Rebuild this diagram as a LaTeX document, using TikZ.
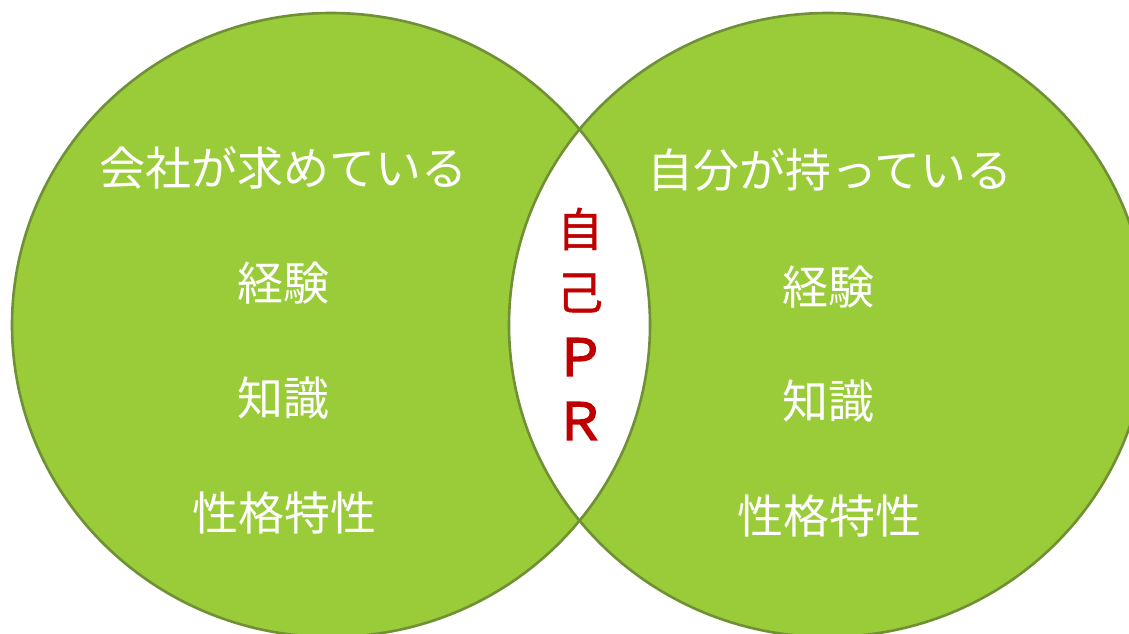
\documentclass[tikz,border=0pt]{standalone}
\usepackage{fontspec}
\newfontfamily\cjk{Noto Sans CJK JP}
\newfontfamily\cjkm[FakeBold=1]{Noto Sans CJK JP}
\newfontfamily\cjkl[FakeBold=3]{Noto Sans CJK JP}
\definecolor{vgreen}{HTML}{9ACB39}
\definecolor{vedge}{HTML}{6F9034}
\definecolor{prred}{HTML}{C00000}
\tikzset{
  lbl/.style={text=white, font=\cjk\fontsize{46}{54}\selectfont, inner sep=0pt, anchor=center},
  prl/.style={text=prred, font=\cjkm\fontsize{46}{52}\selectfont, inner sep=0pt, anchor=center},
  prlat/.style={text=prred, font=\cjkl\fontsize{51}{60}\selectfont, inner sep=0pt, anchor=center},
  ring/.style={draw=vedge, line width=2.6pt}
}
\begin{document}
\begin{tikzpicture}[x=1pt,y=-1pt]
\useasboundingbox (0,0) rectangle (1129,634);
\clip (0,0) rectangle (1129,634);
\coordinate (cl) at (331,325);
\coordinate (cr) at (828,325);
\fill[vgreen] (cl) ellipse [x radius=319pt, y radius=312pt];
\fill[vgreen] (cr) ellipse [x radius=319pt, y radius=312pt];
\begin{scope}
  \clip (cl) ellipse [x radius=319pt, y radius=312pt];
  \fill[white] (cr) ellipse [x radius=319pt, y radius=312pt];
\end{scope}
\draw[ring] (cl) ellipse [x radius=319pt, y radius=312pt];
\draw[ring] (cr) ellipse [x radius=319pt, y radius=312pt];

\node[lbl] (l1) at (283,168) {会社が求めている};
\node[lbl] (l2) at (283,283) {経験};
\node[lbl] (l3) at (283,398) {知識};
\node[lbl] (l4) at (284,513) {性格特性};

\node[lbl] (r1) at (830,170) {自分が持っている};
\node[lbl] (r2) at (828,287) {経験};
\node[lbl] (r3) at (828,401) {知識};
\node[lbl] (r4) at (829,516) {性格特性};

\node[prl] (p1) at (580,229) {自};
\node[prl] (p2) at (580,293) {己};
\node[prlat] (p3) at (580,357) {Ｐ};
\node[prlat] (p4) at (580,421) {Ｒ};
\end{tikzpicture}
\end{document}
